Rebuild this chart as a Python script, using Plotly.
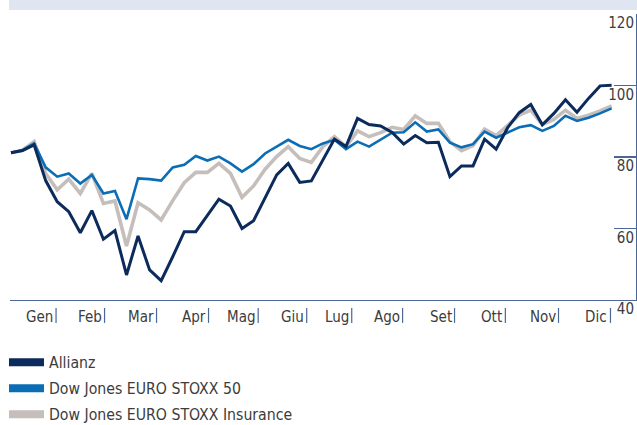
import plotly.graph_objects as go

# ---- data (weekly index values, start = week 0) ----
weeks = list(range(53))
allianz = [81.2, 81.8, 83.4, 73.4, 67.5, 64.7, 58.8, 65.0, 57.0, 59.4,
           47.0, 57.9, 48.4, 45.4, 52.1, 59.1, 59.1, 63.5, 68.2, 66.3,
           60.0, 62.2, 68.7, 75.0, 78.2, 72.9, 73.3, 79.2, 85.0, 82.9,
           90.8, 89.1, 88.7, 86.9, 83.6, 86.0, 84.0, 84.1, 74.5, 77.5,
           77.5, 85.0, 82.2, 88.2, 92.4, 94.7, 89.0, 92.2, 96.0, 92.5,
           96.4, 99.9, 100.1]
stoxx50 = [81.2, 81.9, 83.8, 77.1, 74.5, 75.4, 72.6, 75.0, 69.8, 70.5,
           62.6, 74.0, 73.8, 73.4, 77.1, 77.8, 80.3, 79.0, 80.1, 78.2,
           75.9, 78.0, 81.0, 82.9, 84.8, 83.1, 82.2, 83.8, 84.8, 82.2,
           84.3, 82.9, 84.8, 86.8, 86.9, 89.7, 87.1, 87.7, 84.0, 82.7,
           83.6, 87.1, 85.4, 86.9, 88.3, 88.9, 87.3, 88.7, 91.5, 90.1,
           91.0, 92.2, 93.6]
insurance = [81.2, 81.9, 84.3, 75.4, 70.8, 73.8, 69.8, 75.4, 67.0, 67.7,
             55.1, 67.2, 65.2, 62.4, 67.8, 72.8, 75.7, 75.7, 78.2, 75.4,
             68.7, 71.9, 76.6, 80.1, 82.9, 79.6, 78.5, 82.9, 85.7, 82.9,
             87.3, 85.7, 86.8, 88.3, 87.7, 91.5, 89.4, 89.4, 84.3, 81.8,
             83.2, 87.8, 86.0, 88.8, 91.7, 93.1, 89.1, 90.5, 93.1, 90.8,
             91.7, 92.9, 94.3]

months = ["Gen", "Feb", "Mar", "Apr", "Mag", "Giu",
          "Lug", "Ago", "Set", "Ott", "Nov", "Dic"]
month_end_week = [3.9, 8.1, 12.6, 17.1, 21.4, 25.6,
                  29.5, 33.9, 38.4, 42.8, 47.4, 51.9]
y_ticks = [40, 60, 80, 100, 120]

names = ["Allianz", "Dow Jones EURO STOXX 50", "Dow Jones EURO STOXX Insurance"]
colors = ["#0b2b5c", "#0a6db5", "#c5bebb"]
widths = [3, 2.6, 3.6]
series = [allianz, stoxx50, insurance]

FONT = "DejaVu Sans Condensed, Liberation Sans Narrow, sans-serif"
AXIS = "#4a6796"
TEXT = "#3c3c3c"

fig = go.Figure()
# draw gray first, navy last (on top)
for i in [2, 1, 0]:
    fig.add_trace(go.Scatter(x=weeks, y=series[i], mode="lines",
                             line=dict(color=colors[i], width=widths[i]),
                             showlegend=False, hoverinfo="skip"))
# legend-only swatches
for i in range(3):
    fig.add_trace(go.Scatter(x=[None], y=[None], mode="lines", name=names[i],
                             line=dict(color=colors[i], width=8),
                             legendgroup=str(i)))

# month labels + small bars after each
for m, wk in zip(months, month_end_week):
    fig.add_annotation(x=wk, y=-0.059, xref="x", yref="paper", text=m,
                       showarrow=False, xanchor="right", yanchor="middle",
                       xshift=-1, font=dict(family=FONT, size=15, color=TEXT))
    fig.add_shape(type="line", xref="x", yref="paper", x0=wk, x1=wk,
                  y0=-0.028, y1=-0.080, line=dict(color=AXIS, width=1.2))

# top band
fig.add_shape(type="rect", xref="paper", yref="paper",
              x0=-0.0016, x1=1.01, y0=1.014, y1=1.06,
              fillcolor="#dfe5f1", line=dict(width=0), layer="below")

fig.update_layout(
    width=637, height=425,
    margin=dict(l=10, r=1, t=14, b=125, autoexpand=False),
    paper_bgcolor="white", plot_bgcolor="white",
    font=dict(family=FONT, color=TEXT),
    hovermode=False,
    showlegend=True,
    legend=dict(x=-0.0096, y=-0.1595, xanchor="left", yanchor="top",
                font=dict(family=FONT, size=15.7, color=TEXT),
                traceorder="grouped", tracegroupgap=2.5, itemwidth=35,
                bgcolor="rgba(0,0,0,0)", itemclick=False),
    xaxis=dict(range=[-0.087, 54.11], showgrid=False, zeroline=False,
               showline=True, linecolor=AXIS, linewidth=1.2,
               showticklabels=False, ticks=""),
    yaxis=dict(range=[40, 120], side="right", showgrid=False, zeroline=False,
               showline=True, linecolor=AXIS, linewidth=1.2,
               tickvals=y_ticks, ticks="inside", ticklen=22,
               tickcolor=AXIS, tickwidth=1.2,
               ticklabelposition="inside", ticklabeloverflow="allow",
               ticklabelshift=9, ticklabelstandoff=-20,
               tickfont=dict(family=FONT, size=15, color=TEXT)),
)

fig.write_html("out.html",
               config={"displayModeBar": False, "staticPlot": True},
               post_script="document.body.style.margin='0';"
                           "document.body.style.padding='0';")
